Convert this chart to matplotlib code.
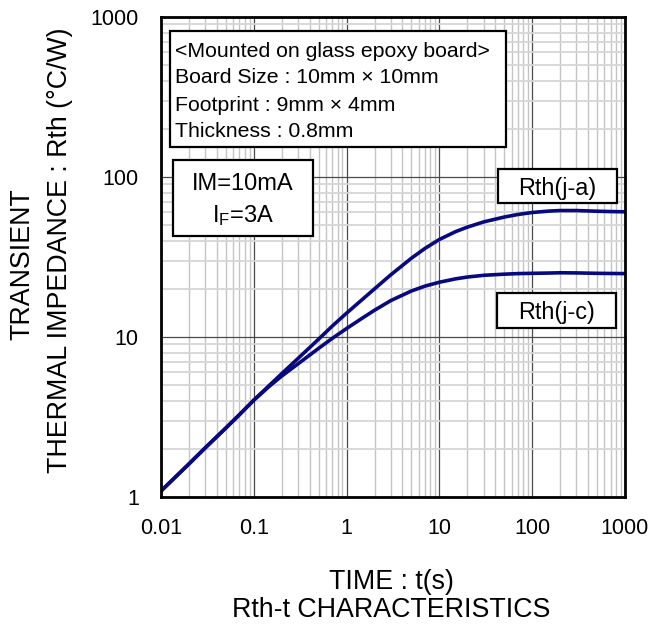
import matplotlib
matplotlib.use("Agg")
import matplotlib.pyplot as plt
from matplotlib.patches import Rectangle
from matplotlib.ticker import LogLocator, NullFormatter, FixedLocator, FixedFormatter

plt.rcParams['font.family'] = ['Liberation Sans', 'DejaVu Sans']
plt.rcParams['mathtext.fontset'] = 'custom'
plt.rcParams['mathtext.rm'] = 'Liberation Sans'

# ---- data ----
t = [0.01, 0.02, 0.03, 0.05, 0.07, 0.1, 0.15, 0.2, 0.3, 0.5, 0.7, 1, 1.5, 2, 3,
     5, 7, 10, 15, 20, 30, 50, 70, 100, 150, 200, 300, 500, 700, 1000]
rth_ja = [1.09, 1.61, 2.03, 2.70, 3.27, 4.03, 5.04, 5.9, 7.35, 9.7, 11.7, 14.1, 17.3,
          20.0, 24.5, 31.1, 35.8, 40.7, 45.6, 48.6, 52.4, 56.2, 58.3, 60.0, 61.2,
          61.7, 61.7, 61.1, 60.8, 60.6]
rth_jc = [1.09, 1.61, 2.03, 2.70, 3.27, 4.03, 4.97, 5.7, 6.8, 8.5, 9.8, 11.3, 13.2,
          14.7, 16.9, 19.4, 20.8, 22.0, 23.1, 23.7, 24.3, 24.7, 24.9, 25.0, 25.1,
          25.2, 25.15, 25.0, 24.95, 24.9]
x_ticks = [0.01, 0.1, 1, 10, 100, 1000]
x_tick_labels = ["0.01", "0.1", "1", "10", "100", "1000"]
y_ticks = [1, 10, 100, 1000]
y_tick_labels = ["1", "10", "100", "1000"]
cond_lines = ["<Mounted on glass epoxy board>",
              "Board Size : 10mm \u00d7 10mm",
              "Footprint : 9mm \u00d7 4mm",
              "Thickness : 0.8mm"]
bias_lines = ["IM=10mA", r"$\mathregular{I_F}$=3A"]
curve_labels = ["Rth(j-a)", "Rth(j-c)"]

W, H = 654, 624
fig = plt.figure(figsize=(W / 100, H / 100), dpi=100)

def fx(px):
    return px / W

def fy(py):
    return 1 - py / H

ax = fig.add_axes([fx(161), fy(497), (625 - 161) / W, (497 - 17) / H])
ax.set_xscale('log')
ax.set_yscale('log')
ax.set_xlim(0.01, 1000)
ax.set_ylim(1, 1000)

line_color = '#080880'
ax.plot(t, rth_ja, color=line_color, lw=2.6, zorder=5, solid_joinstyle='round')
ax.plot(t, rth_jc, color=line_color, lw=2.6, zorder=5, solid_joinstyle='round')

ax.xaxis.set_major_locator(FixedLocator(x_ticks))
ax.xaxis.set_major_formatter(FixedFormatter(x_tick_labels))
ax.yaxis.set_major_locator(FixedLocator(y_ticks))
ax.yaxis.set_major_formatter(FixedFormatter(y_tick_labels))
ax.xaxis.set_minor_locator(LogLocator(base=10, subs=range(2, 10), numticks=20))
ax.yaxis.set_minor_locator(LogLocator(base=10, subs=range(2, 10), numticks=20))
ax.xaxis.set_minor_formatter(NullFormatter())
ax.yaxis.set_minor_formatter(NullFormatter())

ax.grid(which='minor', axis='x', color='#c4c4c4', lw=1.0)
ax.grid(which='minor', axis='y', color='#d6d6d6', lw=1.3)
ax.grid(which='major', color='#4a4a4a', lw=0.9)
ax.set_axisbelow(True)

ax.tick_params(which='both', length=0)
ax.tick_params(axis='x', which='major', pad=15, labelsize=15.5)
ax.tick_params(axis='y', which='major', pad=16, labelsize=15.5)
for s in ax.spines.values():
    s.set_linewidth(2.0)
    s.set_color('black')
    s.set_zorder(6)

def box(x0, y0, x1, y1):
    r = Rectangle((fx(x0), fy(y1)), fx(x1) - fx(x0), fy(y0) - fy(y1),
                  transform=fig.transFigure, facecolor='white', edgecolor='black',
                  lw=1.6, zorder=7)
    fig.add_artist(r)

box(170, 30.7, 506, 146.7)
box(172.7, 160, 313.3, 235.7)
box(497.7, 169, 616.7, 203.3)
box(496.7, 293.3, 616, 328.3)

for line, base in zip(cond_lines, [56.7, 83.0, 110.7, 136.7]):
    fig.text(fx(175), fy(base), line, fontsize=15.3, ha='left', va='baseline', zorder=8)
for line, base in zip(bias_lines, [190, 222.3]):
    fig.text(fx(243), fy(base), line, fontsize=17, ha='center', va='baseline', zorder=8)
fig.text(fx(557), fy(195), curve_labels[0], fontsize=16.8, ha='center', va='baseline', zorder=8)
fig.text(fx(556.3), fy(319.3), curve_labels[1], fontsize=16.8, ha='center', va='baseline', zorder=8)

fig.text(fx(22), fy(264), "TRANSIENT", fontsize=19.3, rotation=90, ha='center', va='center')
fig.text(fx(60), fy(250), "THERMAL IMPEDANCE : Rth (\u00b0C/W)", fontsize=19.3,
         rotation=90, ha='center', va='center')
fig.text(fx(391.7), fy(589), "TIME : t(s)", fontsize=19.3, ha='center', va='baseline')
fig.text(fx(391.3), fy(617), "Rth-t CHARACTERISTICS", fontsize=19.3, ha='center', va='baseline')

fig.savefig("out.png", dpi=100)
